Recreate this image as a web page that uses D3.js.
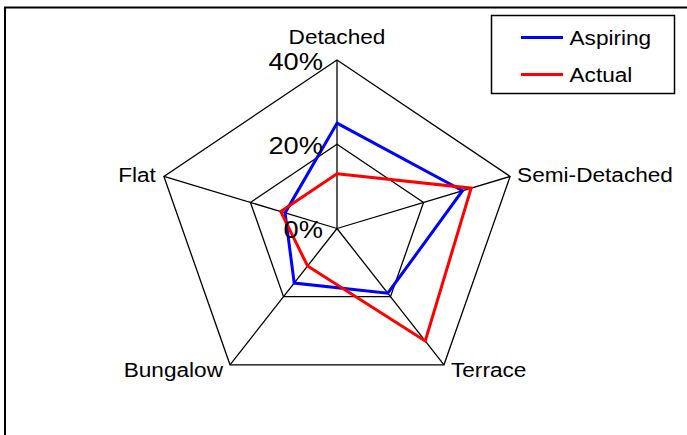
<!DOCTYPE html>
<html>
<head>
<meta charset="utf-8">
<script src="https://cdn.jsdelivr.net/npm/d3@7/dist/d3.min.js"></script>
<style>
  html, body { margin: 0; padding: 0; background: #fff; }
  svg { display: block; }
  text { font-family: "Liberation Sans", Arial, sans-serif; fill: #000; }
</style>
</head>
<body>
<svg id="chart" width="687" height="435"></svg>
<script>
// Housing types around the radar, clockwise from the top
const categories = ["Detached", "Semi-Detached", "Terrace", "Bungalow", "Flat"];
// Share of respondents (%)
const aspiring = [25, 29, 19, 16, 12];
const actual   = [13, 31, 33, 11, 13];
const seriesNames = ["Aspiring", "Actual"];
const seriesColors = ["#0000FF", "#FF0000"];
const tickValues = [0, 20, 40];
const tickLabels = ["0%", "20%", "40%"];

const svg = d3.select("#chart");
const W = 687, H = 435;

// plot geometry (the plot area is a little wider than tall)
const cx = 337, cy = 228.5, rx = 182, ry = 168.5;
const r = d3.scaleLinear().domain([0, 40]).range([0, 1]);
const angle = d3.scaleLinear().domain([0, categories.length]).range([0, 2 * Math.PI]);

function pt(i, v) {
  const a = angle(i);
  return [cx + rx * r(v) * Math.sin(a), cy - ry * r(v) * Math.cos(a)];
}

// horizontally widened text
function stretchedText(g, txt, x, y, size, anchor, sx) {
  return g.append("text")
    .attr("transform", `translate(${x},${y}) scale(${sx},1)`)
    .attr("text-anchor", anchor)
    .style("font-size", size + "px")
    .text(txt);
}

svg.append("rect").attr("width", W).attr("height", H).attr("fill", "#fff");

// chart frame
svg.append("rect")
  .attr("x", 5).attr("y", 7.5)
  .attr("width", 720).attr("height", 460)
  .attr("fill", "none").attr("stroke", "#000").attr("stroke-width", 2);

const grid = svg.append("g");
const line = d3.line().curve(d3.curveLinearClosed);

// grid pentagons
tickValues.filter(v => v > 0).forEach(v => {
  grid.append("path")
    .attr("d", line(categories.map((c, i) => pt(i, v))))
    .attr("fill", "none").attr("stroke", "#000").attr("stroke-width", 1.3);
});

// spokes
categories.forEach((c, i) => {
  const [x, y] = pt(i, 40);
  grid.append("line")
    .attr("x1", cx).attr("y1", cy).attr("x2", x).attr("y2", y)
    .attr("stroke", "#000").attr("stroke-width", 1.3);
});

// series
const seriesData = [aspiring, actual];
seriesData.forEach((vals, s) => {
  svg.append("path")
    .attr("d", line(vals.map((v, i) => pt(i, v))))
    .attr("fill", "none")
    .attr("stroke", seriesColors[s])
    .attr("stroke-width", 3)
    .attr("stroke-linejoin", "miter");
});

// value axis labels along the top spoke
tickValues.forEach((v, k) => {
  const y = cy - ry * r(v);
  stretchedText(svg, tickLabels[k], 323, y + 9.5, 23.5, "end", 1.16);
});

// category labels
const labelPos = [
  { dx: 0, dy: -16, anchor: "middle" },
  { dx: 7, dy: 6, anchor: "start" },
  { dx: 7, dy: 12, anchor: "start" },
  { dx: -7, dy: 12, anchor: "end" },
  { dx: -8, dy: 6, anchor: "end" }
];
categories.forEach((c, i) => {
  const [x, y] = pt(i, 40);
  const p = labelPos[i];
  stretchedText(svg, c, x + p.dx, y + p.dy, 19.5, p.anchor, 1.16);
});

// legend
const lg = svg.append("g");
lg.append("rect")
  .attr("x", 491.5).attr("y", 15.5).attr("width", 183).attr("height", 78)
  .attr("fill", "#fff").attr("stroke", "#000").attr("stroke-width", 1.5);
seriesNames.forEach((n, s) => {
  const y = 37.5 + s * 37;
  lg.append("line")
    .attr("x1", 521).attr("x2", 563).attr("y1", y).attr("y2", y)
    .attr("stroke", seriesColors[s]).attr("stroke-width", 3);
  stretchedText(lg, n, 569.5, y + 7.5, 19.5, "start", 1.16);
});
</script>
</body>
</html>
